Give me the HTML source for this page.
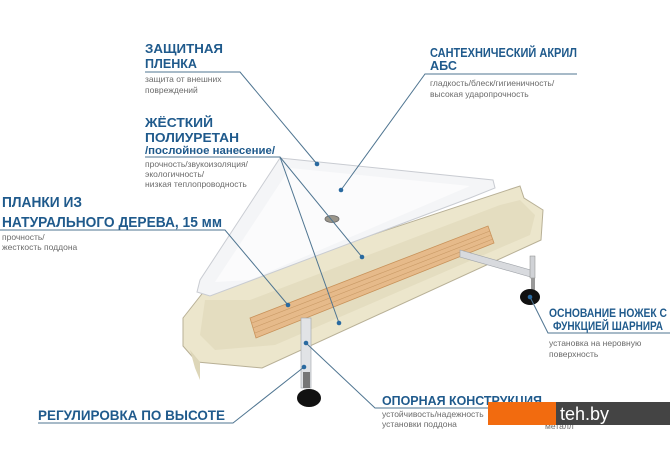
<!DOCTYPE html>
<html><head><meta charset="utf-8"><style>
html,body{margin:0;padding:0;background:#fff;}
svg{display:block;}
.h{font-family:"Liberation Sans",sans-serif;font-weight:bold;fill:#1f5a8c;}
.s{font-family:"Liberation Sans",sans-serif;fill:#6b6b6b;font-size:8.5px;}
.l{stroke:#4f7591;stroke-width:1;fill:none;}
.d{fill:#2a6aa0;}
</style></head><body>
<svg width="670" height="471" viewBox="0 0 670 471" xmlns="http://www.w3.org/2000/svg">
<rect width="670" height="471" fill="#fff"/>
<!-- beige body -->
<polygon points="183,318 205,290 520,186 524,198 543,210 541,240 262,368 197,362 183,346" fill="#ece6cc" stroke="#b8b096" stroke-width="1"/>
<polygon points="190,350 200,362 200,380 195,368" fill="#ddd6b8"/>
<polygon points="205,300 250,300 500,205 520,200 535,215 530,235 275,345 215,350 200,335" fill="#e4ddc0"/>
<!-- white tray -->
<polygon points="280,158 493,180 495,188 470,198 210,296 197,292 200,280" fill="#f4f5f7" stroke="#c9ccd2" stroke-width="1"/>
<polygon points="290,168 470,186 250,280 215,282" fill="#fbfbfc"/>
<ellipse cx="332" cy="219" rx="7" ry="3.5" fill="#9a958a" stroke="#666" stroke-width="0.8"/>
<!-- wood -->
<polygon points="250,318 488,226 494,243 256,338" fill="#e6ba8a" stroke="#c8925a" stroke-width="0.8"/>
<line x1="252" y1="323" x2="490" y2="231" stroke="#c99a66" stroke-width="0.6"/>
<line x1="253" y1="328" x2="491" y2="235" stroke="#c99a66" stroke-width="0.6"/>
<line x1="255" y1="333" x2="493" y2="239" stroke="#c99a66" stroke-width="0.6"/>
<!-- right leg -->
<polygon points="460,250 534,271 534,278 460,257" fill="#d8dade" stroke="#9ea2a8" stroke-width="0.6"/>
<rect x="530" y="256" width="5" height="22" fill="#d0d2d6" stroke="#888" stroke-width="0.5"/>
<rect x="531" y="278" width="4" height="12" fill="#999"/>
<ellipse cx="530" cy="297" rx="10" ry="8" fill="#111"/>
<!-- left leg -->
<rect x="301" y="318" width="10" height="70" fill="#e1e3e6" stroke="#9ea2a8" stroke-width="0.6"/>
<rect x="303" y="372" width="7" height="16" fill="#777"/>
<ellipse cx="309" cy="398" rx="12" ry="9" fill="#111"/>
<!-- leader lines -->
<polyline class="l" points="145,72 240,72 317,164"/>
<polyline class="l" points="577,74 425,74 341,190"/>
<polyline class="l" points="145,157 280,157 362,257"/>
<line class="l" x1="280" y1="157" x2="339" y2="323"/>
<polyline class="l" points="0,230 225,230 288,305"/>
<polyline class="l" points="38,423 233,423 304,367"/>
<polyline class="l" points="306,343 375,408 545,408"/>
<polyline class="l" points="530,297 548,333 670,333"/>
<circle class="d" cx="317" cy="164" r="2.3"/>
<circle class="d" cx="341" cy="190" r="2.3"/>
<circle class="d" cx="362" cy="257" r="2.3"/>
<circle class="d" cx="339" cy="323" r="2.3"/>
<circle class="d" cx="288" cy="305" r="2.3"/>
<circle class="d" cx="306" cy="343" r="2.3"/>
<circle class="d" cx="304" cy="367" r="2.3"/>
<circle class="d" cx="530" cy="297" r="2.3"/>
<!-- texts -->
<text class="h" x="145" y="53" font-size="12.5" textLength="78" lengthAdjust="spacingAndGlyphs">ЗАЩИТНАЯ</text>
<text class="h" x="145" y="68" font-size="12.5" textLength="52" lengthAdjust="spacingAndGlyphs">ПЛЕНКА</text>
<text class="s" x="145" y="82">защита от внешних</text>
<text class="s" x="145" y="93">повреждений</text>
<text class="h" x="145" y="127" font-size="12.5" textLength="68" lengthAdjust="spacingAndGlyphs">ЖЁСТКИЙ</text>
<text class="h" x="145" y="142" font-size="12.5" textLength="94" lengthAdjust="spacingAndGlyphs">ПОЛИУРЕТАН</text>
<text class="h" x="145" y="154" font-size="11" textLength="130" lengthAdjust="spacingAndGlyphs">/послойное нанесение/</text>
<text class="s" x="145" y="167">прочность/звукоизоляция/</text>
<text class="s" x="145" y="177">экологичность/</text>
<text class="s" x="145" y="187">низкая теплопроводность</text>
<text class="h" x="2" y="207" font-size="15" textLength="80" lengthAdjust="spacingAndGlyphs">ПЛАНКИ ИЗ</text>
<text class="h" x="2" y="227" font-size="15" textLength="220" lengthAdjust="spacingAndGlyphs">НАТУРАЛЬНОГО ДЕРЕВА, 15 мм</text>
<text class="s" x="2" y="240">прочность/</text>
<text class="s" x="2" y="250">жесткость поддона</text>
<text class="h" x="430" y="57" font-size="12.5" textLength="147" lengthAdjust="spacingAndGlyphs">САНТЕХНИЧЕСКИЙ АКРИЛ</text>
<text class="h" x="430" y="70" font-size="12.5" textLength="27" lengthAdjust="spacingAndGlyphs">АБС</text>
<text class="s" x="430" y="86">гладкость/блеск/гигиеничность/</text>
<text class="s" x="430" y="97">высокая ударопрочность</text>
<text class="h" x="549" y="317" font-size="12" textLength="118" lengthAdjust="spacingAndGlyphs">ОСНОВАНИЕ НОЖЕК С</text>
<text class="h" x="553" y="330" font-size="12" textLength="110" lengthAdjust="spacingAndGlyphs">ФУНКЦИЕЙ ШАРНИРА</text>
<text class="s" x="549" y="346">установка на неровную</text>
<text class="s" x="549" y="357">поверхность</text>
<text class="h" x="382" y="405" font-size="13" textLength="160" lengthAdjust="spacingAndGlyphs">ОПОРНАЯ КОНСТРУКЦИЯ</text>
<text class="s" x="382" y="417">устойчивость/надежность</text>
<text class="s" x="382" y="427">установки поддона</text>
<text class="s" x="545" y="429">металл</text>
<text class="h" x="38" y="420" font-size="14" textLength="187" lengthAdjust="spacingAndGlyphs">РЕГУЛИРОВКА ПО ВЫСОТЕ</text>
<!-- watermark -->
<rect x="488" y="402" width="68" height="23" fill="#f26b0f"/>
<rect x="556" y="402" width="114" height="23" fill="#444"/>
<text x="560" y="420" font-family="Liberation Sans,sans-serif" font-size="18" fill="#fff">teh.by</text>
</svg>
</body></html>
